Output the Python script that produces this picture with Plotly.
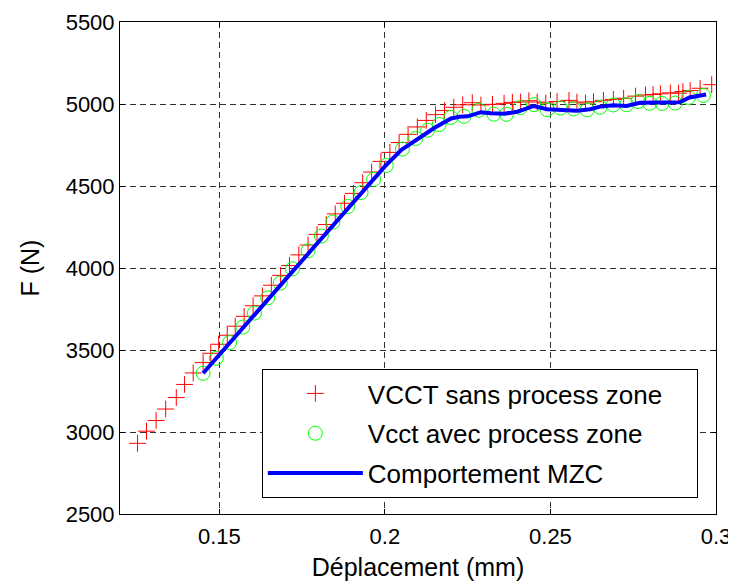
import plotly.graph_objects as go

# VCCT sans process zone (red +)
red_x = [0.1253, 0.1280, 0.1309, 0.1338, 0.1370, 0.1395, 0.1421, 0.1451, 0.1474, 0.1498,
         0.1524, 0.1548, 0.1575, 0.1602, 0.1630, 0.1657, 0.1685, 0.1712, 0.1740, 0.1768,
         0.1795, 0.1823, 0.1850, 0.1878, 0.1905, 0.1933, 0.1960, 0.1988, 0.2015, 0.2043,
         0.2070, 0.2098, 0.2125, 0.2153, 0.2180, 0.2208, 0.2235, 0.2264, 0.2290, 0.2325,
         0.2360, 0.2385, 0.2410, 0.2435, 0.2460, 0.2486, 0.2520, 0.2556, 0.2580, 0.2606,
         0.2630, 0.2660, 0.2690, 0.2721, 0.2757, 0.2787, 0.2810, 0.2832, 0.2862, 0.2887,
         0.2900, 0.2922, 0.2952, 0.2987]
red_y = [2931, 3005, 3070, 3140, 3210, 3290, 3360, 3423, 3480, 3535,
         3590, 3645, 3705, 3770, 3830, 3895, 3955, 4015, 4080, 4140,
         4205, 4265, 4330, 4395, 4455, 4520, 4585, 4650, 4705, 4765,
         4815, 4860, 4900, 4935, 4960, 4980, 4995, 5008, 4994, 4998,
         5004, 5010, 5012, 5020, 5012, 5006, 5015, 5022, 5012, 5006,
         5014, 5022, 5028, 5035, 5048, 5055, 5058, 5062, 5068, 5066,
         5076, 5082, 5096, 5118]

# Vcct avec process zone (green o)
green_x = [0.1451, 0.1491, 0.1531, 0.1571, 0.1606, 0.1646, 0.1684, 0.1721, 0.1768, 0.1808,
           0.1843, 0.1888, 0.1928, 0.1966, 0.2004, 0.2053, 0.2093, 0.2129, 0.2164, 0.2199,
           0.2239, 0.2284, 0.2329, 0.2367, 0.2409, 0.2450, 0.2490, 0.2530, 0.2570, 0.2611,
           0.2650, 0.2690, 0.2730, 0.2765, 0.2800, 0.2837, 0.2877, 0.2917, 0.2962]
green_y = [3358, 3450, 3545, 3640, 3725, 3818, 3908, 3995, 4105, 4195,
           4280, 4375, 4460, 4540, 4625, 4725, 4790, 4840, 4875, 4918,
           4925, 4962, 4938, 4937, 4978, 4996, 4965, 4975, 4970, 4964,
           4980, 4994, 4996, 5015, 5004, 5004, 5006, 5040, 5052]

# Comportement MZC (blue line)
blue_x = [0.1451, 0.150, 0.155, 0.160, 0.165, 0.170, 0.175, 0.180, 0.185, 0.190,
          0.195, 0.200, 0.205, 0.210, 0.215, 0.220, 0.2225, 0.225, 0.229, 0.232,
          0.236, 0.240, 0.245, 0.249, 0.253, 0.258, 0.262, 0.265, 0.269, 0.273,
          0.277, 0.282, 0.289, 0.292, 0.297]
blue_y = [3358, 3470, 3585, 3700, 3815, 3930, 4045, 4160, 4275, 4390,
          4505, 4620, 4720, 4790, 4855, 4912, 4922, 4925, 4950, 4943,
          4940, 4953, 4988, 4968, 4964, 4959, 4968, 4984, 4992, 4988,
          5008, 5008, 5010, 5040, 5058]

x_ticks = [0.15, 0.2, 0.25, 0.3]
x_ticktext = ["0.15", "0.2", "0.25", "0.3"]
y_ticks = [2500, 3000, 3500, 4000, 4500, 5000, 5500]

FONT = "Liberation Sans, Arial, sans-serif"
PAD = "\u00a0" * 4  # right padding inside the legend box

fig = go.Figure()
fig.add_trace(go.Scatter(
    x=red_x, y=red_y, mode="markers", name="VCCT sans process zone" + PAD,
    legendgroup="a",
    marker=dict(symbol="cross-thin", size=12, color="#ff0000",
                line=dict(color="#ff0000", width=1))))
fig.add_trace(go.Scatter(
    x=green_x, y=green_y, mode="markers", name="Vcct avec process zone",
    legendgroup="b",
    marker=dict(symbol="circle-open", size=14, color="#00ff00",
                line=dict(color="#00ff00", width=1))))
fig.add_trace(go.Scatter(
    x=blue_x, y=blue_y, mode="lines", name="Comportement MZC",
    legendgroup="c",
    line=dict(color="#0000ff", width=4)))

axis_common = dict(
    showline=True, linecolor="black", linewidth=1, mirror="allticks",
    ticks="inside", ticklen=5, tickcolor="black",
    showgrid=True, gridcolor="#333333", gridwidth=1, griddash="6px,4px",
    zeroline=False, automargin=False,
    tickfont=dict(size=22, color="black", family=FONT),
)

# the page body has an 8px margin, so the figure is shifted by 8px right/down
fig.update_layout(
    width=728, height=579,
    margin=dict(l=112, r=20, t=14, b=73),
    paper_bgcolor="white", plot_bgcolor="white",
    font=dict(family=FONT, size=22, color="black"),
    xaxis=dict(range=[0.12, 0.3], tickvals=x_ticks, ticktext=x_ticktext,
               ticklabelstandoff=3,
               title=dict(text="Déplacement (mm)", font=dict(size=25), standoff=10),
               **axis_common),
    yaxis=dict(range=[2500, 5500], tickvals=y_ticks,
               title=dict(text="F (N)", font=dict(size=25), standoff=18),
               **axis_common),
    legend=dict(x=0.238, y=0.2947, xanchor="left", yanchor="top",
                bgcolor="white", bordercolor="black", borderwidth=1,
                font=dict(size=26, family=FONT), tracegroupgap=3,
                itemwidth=95),
    showlegend=True,
)

fig.write_html("out.html")
